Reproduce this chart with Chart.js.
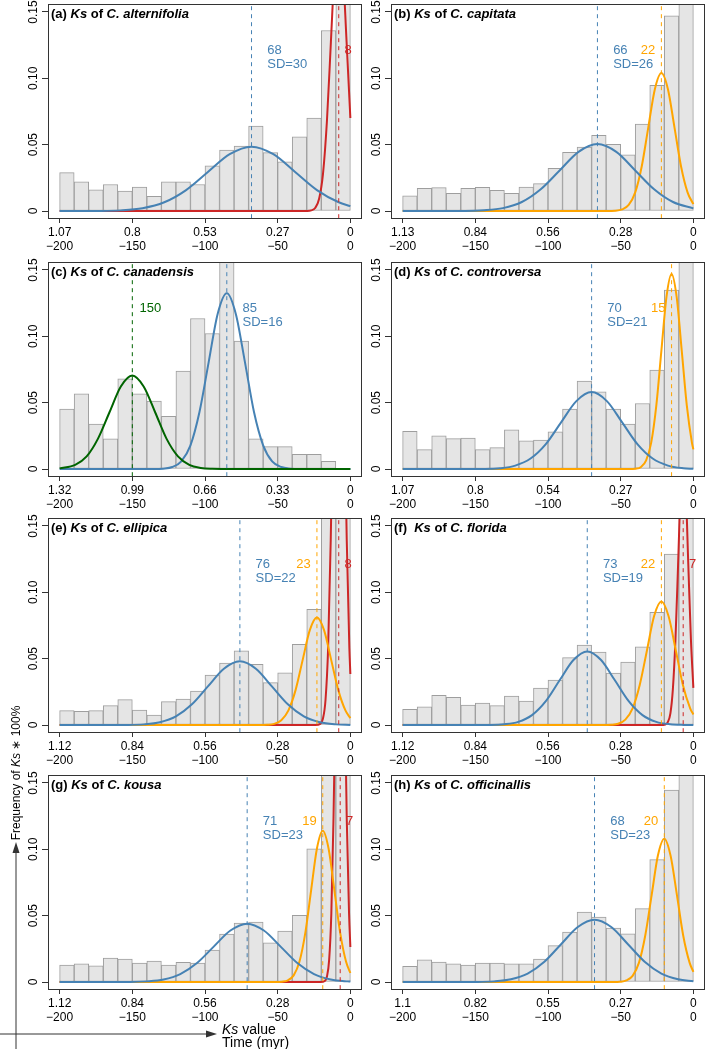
<!DOCTYPE html>
<html>
<head>
<meta charset="utf-8">
<script src="https://cdn.jsdelivr.net/npm/chart.js@4.4.1/dist/chart.umd.min.js"></script>
<style>
html, body { margin: 0; padding: 0; background: #fff; }
body { width: 706px; height: 1049px; position: relative; overflow: hidden; font-family: "Liberation Sans", Arial, sans-serif; color: #000; }
canvas { position: absolute; }
#ylab { position: absolute; left: -84px; top: 765px; width: 200px; height: 16px; line-height: 16px; font-size: 12px; text-align: center; transform: rotate(-90deg); white-space: nowrap; }
.xlab { position: absolute; left: 222px; font-size: 14px; line-height: 14px; white-space: nowrap; }
#arrows { position: absolute; left: 0; top: 820px; }
</style>
</head>
<body>
<canvas id="cA" width="364" height="250" style="left:0;top:0"></canvas>
<canvas id="cB" width="363" height="250" style="left:343px;top:0"></canvas>
<canvas id="cC" width="364" height="250" style="left:0;top:258px"></canvas>
<canvas id="cD" width="363" height="250" style="left:343px;top:258px"></canvas>
<canvas id="cE" width="364" height="250" style="left:0;top:514px"></canvas>
<canvas id="cF" width="363" height="250" style="left:343px;top:514px"></canvas>
<canvas id="cG" width="364" height="250" style="left:0;top:771px"></canvas>
<canvas id="cH" width="363" height="250" style="left:343px;top:771px"></canvas>

<div id="ylab">Frequency of <i>Ks</i> &#8727; 100%</div>
<svg id="arrows" width="240" height="229">
  <line x1="16" y1="229" x2="16" y2="31" stroke="#333" stroke-width="1"/>
  <polygon points="16,22 12.5,33 19.5,33" fill="#333"/>
  <line x1="0" y1="214" x2="208" y2="214" stroke="#333" stroke-width="1"/>
  <polygon points="217,214 206,210.5 206,217.5" fill="#333"/>
</svg>
<div class="xlab" style="top:1022px"><i>Ks</i> value</div>
<div class="xlab" style="top:1035px">Time (myr)</div>

<script>
// histogram bins (myr, bin centres), shared axis ticks
const binMid = [-195,-185,-175,-165,-155,-145,-135,-125,-115,-105,-95,-85,-75,-65,-55,-45,-35,-25,-15,-5];
const timeTicks = [-200,-150,-100,-50,0];
const freqTicks = [0, 0.05, 0.10, 0.15];
const freqLabels = ["0", "0.05", "0.10", "0.15"];

// (a) C. alternifolia
const ksA = ["1.07","0.8","0.53","0.27","0"];
const barsA = [0.029,0.022,0.016,0.020,0.015,0.018,0.011,0.022,0.022,0.020,0.034,0.046,0.049,0.064,0.044,0.037,0.056,0.070,0.136,0.190];
const blueA = [[-200,0],[-173,0.0001],[-158,0.0005],[-143,0.0021],[-128,0.0066],[-113,0.0158],[-98,0.0294],[-83,0.0428],[-68,0.0485],[-53,0.0428],[-38,0.0294],[-23,0.0158],[-8,0.0066],[0,0.0037]];
const redA = [[-200,0],[-40,0],[-30,0.0001],[-26.9,0.0005],[-24.2,0.0023],[-21.5,0.0092],[-18.8,0.0284],[-16.1,0.0682],[-13.4,0.1274],[-10.7,0.1853],[-8,0.21],[-5.3,0.1853],[-2.6,0.1274],[0,0.0701]];
const modesA = [68, 8];
const sdA = 30;

// (b) C. capitata
const ksB = ["1.13","0.84","0.56","0.28","0"];
const barsB = [0.0115,0.0171,0.0176,0.0133,0.0171,0.0178,0.0156,0.0133,0.018,0.0206,0.0321,0.0442,0.0482,0.057,0.0502,0.0424,0.0655,0.0948,0.147,0.19];
const blueB = [[-200,0],[-157,0.0001],[-144,0.0006],[-131,0.0022],[-118,0.0068],[-105,0.0164],[-92,0.0306],[-79,0.0446],[-66,0.0505],[-53,0.0446],[-40,0.0306],[-27,0.0164],[-14,0.0068],[0,0.002]];
const orangeB = [[-200,0],[-60,0],[-53.5,0.0002],[-49,0.0012],[-44.5,0.0046],[-40,0.0141],[-35.5,0.0338],[-31,0.0631],[-26.5,0.0918],[-22,0.104],[-17.5,0.0918],[-13,0.0631],[-8.5,0.0338],[-4,0.0141],[0,0.0052]];
const modesB = [66, 22];
const sdB = 26;

// (c) C. canadensis
const ksC = ["1.32","0.99","0.66","0.33","0"];
const barsC = [0.0451,0.0567,0.0338,0.0227,0.068,0.0567,0.0512,0.0398,0.0739,0.1134,0.1021,0.17,0.0965,0.0227,0.0169,0.0169,0.0111,0.0111,0.0058,0];
const greenC = [[-200,0.0005],[-189.3,0.0031],[-181.4,0.0095],[-173.6,0.0229],[-165.7,0.0428],[-157.9,0.0622],[-150,0.0705],[-142.2,0.0622],[-134.3,0.0428],[-126.5,0.0229],[-118.6,0.0095],[-110.8,0.0031],[-102.9,0.0008],[-95.1,0.0002],[-80,0],[0,0]];
const blueC = [[-200,0],[-135,0],[-128.8,0.0003],[-122.5,0.0015],[-116.3,0.0058],[-110,0.0179],[-103.8,0.043],[-97.5,0.0804],[-91.3,0.1169],[-85,0.1325],[-78.8,0.1169],[-72.5,0.0804],[-66.3,0.043],[-60,0.0179],[-53.8,0.0058],[-47.5,0.0015],[-41.3,0.0003],[-35,0],[0,0]];
const modesC = [85, 150];
const sdC = 16;

// (d) C. controversa
const ksD = ["1.07","0.8","0.54","0.27","0"];
const barsD = [0.0285,0.0146,0.025,0.0229,0.0234,0.0146,0.0161,0.0295,0.0212,0.0219,0.028,0.0451,0.0663,0.0582,0.0451,0.0338,0.0494,0.0746,0.1349,0.19];
const blueD = [[-200,0],[-143.5,0.0001],[-133,0.0006],[-122.5,0.0026],[-112,0.0079],[-101.5,0.0188],[-91,0.0352],[-80.5,0.0512],[-70,0.058],[-59.5,0.0512],[-49,0.0352],[-38.5,0.0188],[-28,0.0079],[-17.5,0.0026],[-7,0.0006],[0,0.0002]];
const orangeD = [[-200,0],[-45,0],[-39.5,0.0003],[-36,0.0016],[-32.5,0.0065],[-29,0.0199],[-25.5,0.0477],[-22,0.0892],[-18.5,0.1297],[-15,0.147],[-11.5,0.1297],[-8,0.0892],[-4.5,0.0477],[-1,0.0199],[0,0.0148]];
const modesD = [70, 15];
const sdD = 21;

// (e) C. ellipica
const ksE = ["1.12","0.84","0.56","0.28","0"];
const barsE = [0.0108,0.0103,0.0108,0.0146,0.0191,0.0113,0.0075,0.0176,0.0196,0.0256,0.0377,0.0467,0.056,0.0457,0.0319,0.0394,0.0608,0.0872,0.2,0.22];
const blueE = [[-200,0],[-153,0.0001],[-142,0.0005],[-131,0.0021],[-120,0.0065],[-109,0.0156],[-98,0.0291],[-87,0.0424],[-76,0.048],[-65,0.0424],[-54,0.0291],[-43,0.0156],[-32,0.0065],[-21,0.0021],[-10,0.0005],[0,0.0001]];
const orangeE = [[-200,0],[-62.2,0],[-57.3,0.0002],[-52.4,0.0009],[-47.5,0.0036],[-42.6,0.011],[-37.7,0.0263],[-32.8,0.0491],[-27.9,0.0715],[-23,0.081],[-18.1,0.0715],[-13.2,0.0491],[-8.3,0.0263],[-3.4,0.011],[0,0.0052]];
const redE = [[-200,0],[-24,0],[-20.7,0.0009],[-18.9,0.0048],[-17.1,0.0189],[-15.3,0.0582],[-13.5,0.1396],[-11.6,0.2608],[-9.8,0.3795],[-8,0.43],[-6.2,0.3795],[-4.4,0.2608],[-2.5,0.1396],[-0.7,0.0582],[0,0.0384]];
const modesE = [76, 23, 8];
const sdE = 22;

// (f) C. florida
const ksF = ["1.12","0.84","0.56","0.28","0"];
const barsF = [0.0118,0.0138,0.0224,0.0209,0.0151,0.0166,0.0146,0.0219,0.0181,0.0279,0.0339,0.0508,0.0603,0.055,0.0392,0.0475,0.059,0.0849,0.1289,0.19];
const blueF = [[-200,0],[-139.5,0.0001],[-130,0.0006],[-120.5,0.0024],[-111,0.0075],[-101.5,0.018],[-92,0.0337],[-82.5,0.049],[-73,0.0555],[-63.5,0.049],[-54,0.0337],[-44.5,0.018],[-35,0.0075],[-25.5,0.0024],[-16,0.0006],[-6.5,0.0001],[0,0]];
const orangeF = [[-200,0],[-61.6,0],[-56.7,0.0002],[-51.7,0.001],[-46.8,0.0041],[-41.8,0.0126],[-36.9,0.0302],[-31.9,0.0564],[-27,0.0821],[-22,0.093],[-17.1,0.0821],[-12.1,0.0564],[-7.2,0.0302],[-2.2,0.0126],[0,0.0079]];
const redF = [[-200,0],[-22.5,0],[-19.4,0.0004],[-17.6,0.0022],[-15.8,0.0088],[-14.1,0.0271],[-12.3,0.0649],[-10.5,0.1213],[-8.8,0.1765],[-7,0.2],[-5.2,0.1765],[-3.5,0.1213],[-1.7,0.0649],[0,0.028]];
const modesF = [73, 22, 7];
const sdF = 19;

// (g) C. kousa
const ksG = ["1.12","0.84","0.56","0.28","0"];
const barsG = [0.0128,0.0138,0.0123,0.0181,0.0173,0.0143,0.0158,0.0128,0.0148,0.0143,0.0241,0.0362,0.0445,0.0452,0.0296,0.0384,0.0503,0.1003,0.18,0.22];
const blueG = [[-200,0],[-151.5,0.0001],[-140,0.0005],[-128.5,0.0019],[-117,0.006],[-105.5,0.0143],[-94,0.0267],[-82.5,0.0388],[-71,0.044],[-59.5,0.0388],[-48,0.0267],[-36.5,0.0143],[-25,0.006],[-13.5,0.0019],[-2,0.0005],[0,0.0004]];
const orangeG = [[-200,0],[-51,0],[-47,0.0003],[-43,0.0013],[-39,0.005],[-35,0.0154],[-31,0.037],[-27,0.0691],[-23,0.1006],[-19,0.114],[-15,0.1006],[-11,0.0691],[-7,0.037],[-3,0.0154],[0,0.0068]];
const redG = [[-200,0],[-20.5,0],[-17.6,0.0008],[-16.1,0.0042],[-14.6,0.0167],[-13.1,0.0514],[-11.6,0.1234],[-10,0.2305],[-8.5,0.3354],[-7,0.38],[-5.5,0.3354],[-4,0.2305],[-2.5,0.1234],[-0.9,0.0514],[0,0.0264]];
const modesG = [71, 19, 7];
const sdG = 23;

// (h) C. officinallis
const ksH = ["1.1","0.82","0.55","0.27","0"];
const barsH = [0.0118,0.0168,0.0151,0.0138,0.0128,0.0143,0.0143,0.0138,0.0138,0.0173,0.0274,0.0377,0.0528,0.049,0.0407,0.0364,0.0553,0.0922,0.1447,0.19];
const blueH = [[-200,0],[-148.5,0.0001],[-137,0.0005],[-125.5,0.0021],[-114,0.0064],[-102.5,0.0153],[-91,0.0285],[-79.5,0.0415],[-68,0.047],[-56.5,0.0415],[-45,0.0285],[-33.5,0.0153],[-22,0.0064],[-10.5,0.0021],[0,0.0006]];
const orangeH = [[-200,0],[-54.8,0],[-50.5,0.0002],[-46.1,0.0012],[-41.8,0.0047],[-37.4,0.0146],[-33.1,0.0351],[-28.7,0.0655],[-24.4,0.0953],[-20,0.108],[-15.7,0.0953],[-11.3,0.0655],[-7,0.0351],[-2.6,0.0146],[0,0.0077]];
const modesH = [68, 20];
const sdH = 23;

const BLUE = "#4682B4", ORANGE = "#FFA500", RED = "#CD2626", GREEN = "#006400";
const FONT = '"Liberation Sans", Arial, sans-serif';
// where the mode label sits relative to its dashed line (myr) and how it is aligned
const labelDx = { blue: 10.8, orange: -4.2, red: 4, green: 5 };
const labelAlign = { blue: "left", orange: "right", red: "left", green: "left" };
const lineColor = { blue: BLUE, orange: ORANGE, red: RED, green: GREEN };
// drawing order: lower is on top
const lineOrder = { green: 2, blue: 3, orange: 4, red: 5 };

const panels = [
    { id: "cA", tag: "(a)", sp: "C. alternifolia", right: 2, ks: ksA, bars: barsA,
      comps: [{ kind: "blue", pts: blueA, mode: modesA[0], sd: sdA }, { kind: "red", pts: redA, mode: modesA[1] }] },
    { id: "cB", tag: "(b)", sp: "C. capitata", right: 1, ks: ksB, bars: barsB,
      comps: [{ kind: "blue", pts: blueB, mode: modesB[0], sd: sdB }, { kind: "orange", pts: orangeB, mode: modesB[1] }] },
    { id: "cC", tag: "(c)", sp: "C. canadensis", right: 2, ks: ksC, bars: barsC,
      comps: [{ kind: "blue", pts: blueC, mode: modesC[0], sd: sdC }, { kind: "green", pts: greenC, mode: modesC[1] }] },
    { id: "cD", tag: "(d)", sp: "C. controversa", right: 1, ks: ksD, bars: barsD,
      comps: [{ kind: "blue", pts: blueD, mode: modesD[0], sd: sdD }, { kind: "orange", pts: orangeD, mode: modesD[1] }] },
    { id: "cE", tag: "(e)", sp: "C. ellipica", right: 2, ks: ksE, bars: barsE,
      comps: [{ kind: "blue", pts: blueE, mode: modesE[0], sd: sdE }, { kind: "orange", pts: orangeE, mode: modesE[1] }, { kind: "red", pts: redE, mode: modesE[2] }] },
    { id: "cF", tag: "(f) ", sp: "C. florida", right: 1, ks: ksF, bars: barsF,
      comps: [{ kind: "blue", pts: blueF, mode: modesF[0], sd: sdF }, { kind: "orange", pts: orangeF, mode: modesF[1] }, { kind: "red", pts: redF, mode: modesF[2] }] },
    { id: "cG", tag: "(g)", sp: "C. kousa", right: 2, ks: ksG, bars: barsG,
      comps: [{ kind: "blue", pts: blueG, mode: modesG[0], sd: sdG }, { kind: "orange", pts: orangeG, mode: modesG[1] }, { kind: "red", pts: redG, mode: modesG[2] }] },
    { id: "cH", tag: "(h)", sp: "C. officinallis", right: 1, ks: ksH, bars: barsH,
      comps: [{ kind: "blue", pts: blueH, mode: modesH[0], sd: sdH }, { kind: "orange", pts: orangeH, mode: modesH[1] }] }
];

Chart.defaults.font.family = FONT;

function minus(v) {
    return String(v).replace("-", "\u2212");
}

function drawTitle(ctx, x, y, tag, sp) {
    const parts = [[tag + " ", "bold"], ["Ks", "italic bold"], [" of ", "bold"], [sp, "italic bold"]];
    ctx.textAlign = "left";
    ctx.textBaseline = "middle";
    ctx.fillStyle = "#000";
    parts.forEach(([t, f]) => {
        ctx.font = f + " 13px " + FONT;
        ctx.fillText(t, x, y);
        x += ctx.measureText(t).width;
    });
}

function makePanel(p) {
    const datasets = [];

    datasets.push({
        type: "bar",
        data: binMid.map((x, i) => ({ x: x, y: p.bars[i] })),
        backgroundColor: "#E5E5E5",
        borderColor: "#9E9E9E",
        borderWidth: 1,
        borderSkipped: false,
        barPercentage: 1,
        categoryPercentage: 1,
        order: 10
    });

    p.comps.forEach(c => {
        datasets.push({
            type: "line",
            data: c.pts.map(pt => ({ x: pt[0], y: pt[1] })),
            borderColor: lineColor[c.kind],
            borderWidth: 2,
            pointRadius: 0,
            cubicInterpolationMode: "monotone",
            fill: false,
            order: lineOrder[c.kind]
        });
        // dashed line at the mode
        datasets.push({
            type: "line",
            data: [{ x: -c.mode, y: -1 }, { x: -c.mode, y: 1 }],
            borderColor: lineColor[c.kind],
            borderWidth: 1,
            borderDash: [4, 4],
            pointRadius: 0,
            fill: false,
            order: 1
        });
    });

    const deco = {
        id: "deco",
        afterDraw(chart) {
            const ctx = chart.ctx;
            const a = chart.chartArea;
            const xs = chart.scales.x, ys = chart.scales.y;
            ctx.save();

            // box round the plot
            ctx.strokeStyle = "#333";
            ctx.lineWidth = 1;
            ctx.setLineDash([]);
            ctx.strokeRect(Math.round(a.left) + 0.5, Math.round(a.top) + 0.5,
                Math.round(a.right - a.left) - 1, Math.round(a.bottom - a.top) - 1);

            // y tick labels, parallel to the axis
            ctx.fillStyle = "#000";
            ctx.font = "12px " + FONT;
            freqTicks.forEach((v, i) => {
                ctx.save();
                ctx.translate(a.left - 14, ys.getPixelForValue(v));
                ctx.rotate(-Math.PI / 2);
                ctx.textAlign = "center";
                ctx.textBaseline = "middle";
                ctx.fillText(freqLabels[i], 0, 0);
                ctx.restore();
            });

            drawTitle(ctx, a.left + 3, a.top + 10.5, p.tag, p.sp);

            // mode labels
            ctx.font = "13px " + FONT;
            ctx.textBaseline = "middle";
            p.comps.forEach(c => {
                const px = xs.getPixelForValue(-c.mode + labelDx[c.kind]);
                ctx.fillStyle = lineColor[c.kind];
                ctx.textAlign = labelAlign[c.kind];
                ctx.fillText(String(c.mode), px, ys.getPixelForValue(0.1208));
                if (c.sd) {
                    ctx.fillText("SD=" + c.sd, px, ys.getPixelForValue(0.1107));
                }
            });
            ctx.restore();
        }
    };

    new Chart(document.getElementById(p.id), {
        type: "bar",
        data: { datasets: datasets },
        options: {
            responsive: false,
            animation: false,
            devicePixelRatio: 1,
            layout: { padding: { left: 0, right: p.right, top: 4, bottom: 0 } },
            plugins: { legend: { display: false }, tooltip: { enabled: false } },
            scales: {
                x: {
                    type: "linear",
                    min: -208,
                    max: 8,
                    offset: false,
                    afterBuildTicks: s => { s.ticks = timeTicks.map(v => ({ value: v })); },
                    afterFit: s => { s.height = 31; },
                    grid: { display: true, drawOnChartArea: false, drawTicks: true, tickLength: 4, color: "#333", offset: false },
                    border: { display: false },
                    ticks: {
                        autoSkip: false,
                        maxRotation: 0,
                        minRotation: 0,
                        padding: 3,
                        color: "#000",
                        font: { size: 12, lineHeight: 1.14 },
                        callback: (v, i) => [p.ks[i], minus(v)]
                    }
                },
                y: {
                    type: "linear",
                    min: -0.006,
                    max: 0.156,
                    afterBuildTicks: s => { s.ticks = freqTicks.map(v => ({ value: v })); },
                    afterFit: s => { s.width = 48; },
                    grid: { display: true, drawOnChartArea: false, drawTicks: true, tickLength: 6, color: "#333" },
                    border: { display: false },
                    ticks: { display: false }
                }
            }
        },
        plugins: [deco]
    });
}

panels.forEach(makePanel);
</script>
</body>
</html>
